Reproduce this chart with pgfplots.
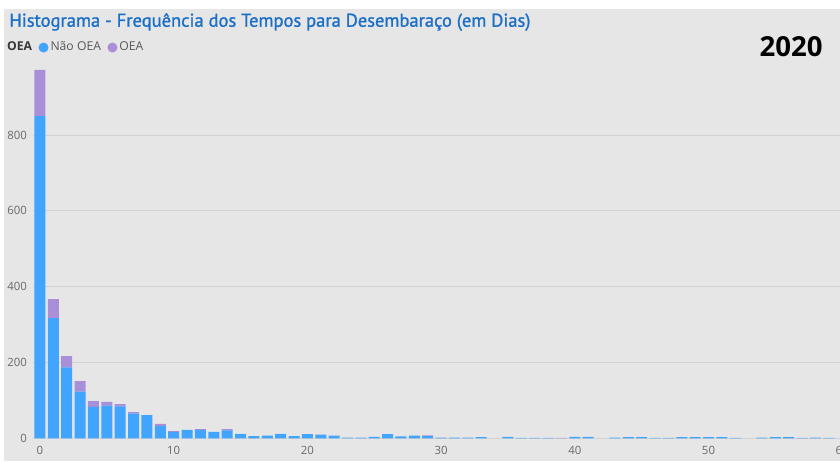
\documentclass[border=0pt]{standalone}
\usepackage{fontspec}
\setmainfont{Open Sans}
\newfontfamily\titlefont[FakeBold=1.3]{PT Sans}
\usepackage{pgfplots}
\usepackage{pgfplotstable}
\pgfplotsset{compat=1.18}

\definecolor{bgray}{HTML}{E6E6E6}
\definecolor{naooea}{HTML}{41A4FF}
\definecolor{oea}{HTML}{A98FD8}
\definecolor{ttl}{HTML}{1C6FC6}
\definecolor{tickgray}{HTML}{6A6A6A}
\definecolor{leggray}{HTML}{5A5A5A}
\definecolor{gridgray}{HTML}{D2D2D2}

% dias, nao OEA, OEA
\pgfplotstableread{
dias nao oea
0 850 122
1 317 50
2 187 30
3 123 28
4 83 15
5 86 10
6 84 6
7 65 4
8 61 0
9 32 6
10 17 2
11 22 0
12 22 2
13 17 0
14 21 3
15 12 0
16 6 0
17 7 0
18 12 0
19 6 0
20 11 0
21 9 1
22 7 0
23 2 0
24 2 0
25 4 0
26 11 0
27 5 0
28 7 0
29 6 2
30 1 1
31 2 0
32 2 0
33 3 0
34 0 0
35 4 0
36 1 0
37 1 0
38 1 0
39 0 1
40 4 0
41 4 0
42 0 0
43 2 0
44 3 0
45 3 0
46 1 0
47 1 0
48 3 0
49 3 0
50 3 0
51 3 0
52 1 0
53 0 0
54 2 0
55 3 0
56 3 0
57 1 0
58 2 0
59 1 0
}\histo

\begin{document}
\begin{tikzpicture}
\fill[white] (0,0) rectangle (420pt,-230.5pt);
\fill[bgray] (2pt,-4.5pt) rectangle (420pt,-230.5pt);

\node[anchor=base west, inner sep=0pt, text=ttl,
  font=\titlefont\fontsize{9.25}{11}\selectfont] at (4.5pt,-13.35pt)
  {Histograma - Frequência dos Tempos para Desembaraço (em Dias)};
\node[anchor=base east, inner sep=0pt,
  font=\bfseries\fontsize{13.8}{15}\selectfont] at (411.5pt,-28.3pt) {2020};

\begin{axis}[
  at={(16.65pt,-219.15pt)}, anchor=south west,
  scale only axis,
  width=407.8pt, height=189.5pt,
  xmin=-0.5, xmax=60.5,
  ymin=0, ymax=1000,
  ybar stacked,
  bar width=5.5pt,
  axis line style={draw=none},
  major tick length=0pt,
  ytick={0,200,400,600,800},
  xtick={0,10,20,30,40,50,60},
  ymajorgrids=true,
  grid style={gridgray, line width=0.5pt},
  /pgf/number format/assume math mode=true,
  tick label style={font=\fontsize{5.7}{6}\selectfont, text=tickgray},
  yticklabel style={inner sep=0pt, xshift=-3pt},
  xticklabel style={inner sep=0pt, yshift=-4pt},
  legend columns=-1,
  legend style={at={(axis description cs:-0.035,1.03)}, anchor=west,
    draw=none, fill=none, inner sep=0pt,
    nodes={inner sep=0pt},
    font=\fontsize{6.1}{6.5}\selectfont, text=leggray,
    /tikz/every odd column/.append style={column sep=1pt},
    /tikz/every even column/.append style={column sep=3.2pt}},
]
\addlegendimage{empty legend}
\addplot[fill=naooea, draw=none,
  legend image code/.code={\fill[naooea] (2.5pt,0.2pt) circle (2.5pt);}]
  table[x=dias, y=nao] {\histo};
\addplot[fill=oea, draw=none,
  legend image code/.code={\fill[oea] (2.5pt,0.2pt) circle (2.5pt);}]
  table[x=dias, y=oea] {\histo};
\legend{{\color{black!78}\bfseries OEA}, Não OEA, OEA}
\end{axis}

\pgfresetboundingbox
\path[use as bounding box] (0,0) rectangle (420pt,-230.5pt);
\end{tikzpicture}
\end{document}
